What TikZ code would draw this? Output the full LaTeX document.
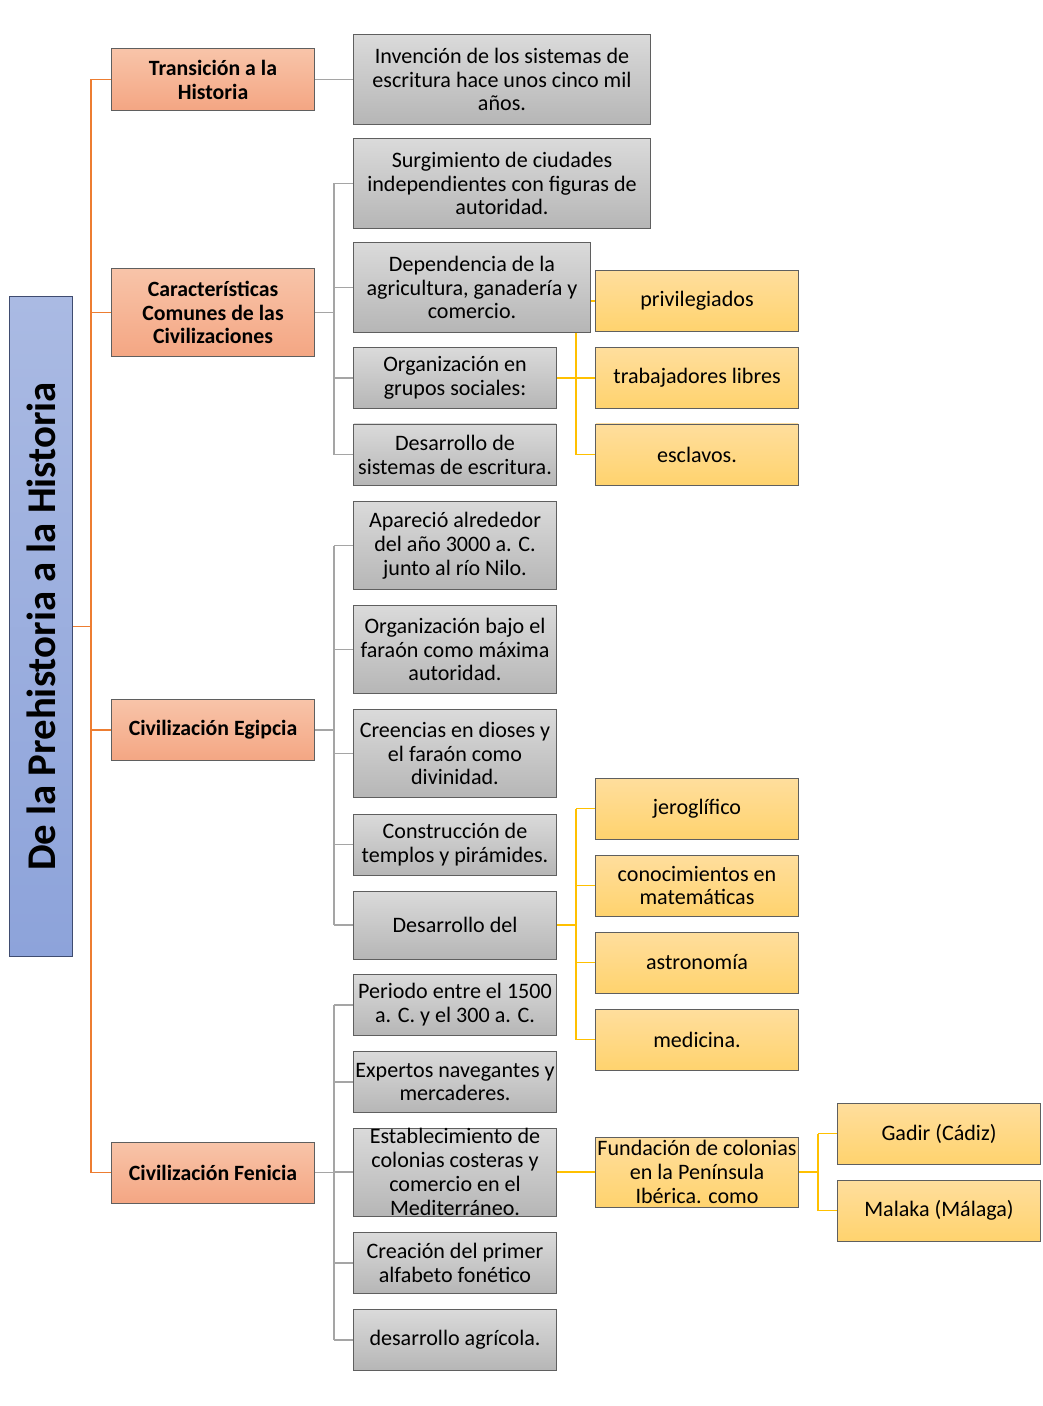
\documentclass[tikz,border=0pt]{standalone}
\usepackage{fontspec}
\setmainfont{Carlito}
\usetikzlibrary{backgrounds}

\definecolor{lnaranja}{HTML}{ED7D31}
\definecolor{lgris}{HTML}{A5A5A5}
\definecolor{lamarillo}{HTML}{FFC000}
\definecolor{raiztop}{HTML}{AABAE3}
\definecolor{raizbot}{HTML}{8DA3DA}
\definecolor{raizborde}{HTML}{3F4C70}
\definecolor{nivtop}{HTML}{F8C4A9}
\definecolor{nivbot}{HTML}{F4A683}
\definecolor{grtop}{HTML}{DADADA}
\definecolor{grbot}{HTML}{B6B6B6}
\definecolor{amtop}{HTML}{FFDE9D}
\definecolor{ambot}{HTML}{FFD36E}
\definecolor{borde}{HTML}{5F5F5F}

\tikzset{
  caja/.style={draw=borde, line width=0.7pt, align=center, inner sep=0pt,
    font=\fontsize{15.7}{17}\selectfont},
  raiz/.style={caja, draw=raizborde, top color=raiztop, bottom color=raizbot,
    minimum width=1.55cm, minimum height=16.475cm},
  nivel/.style={caja, top color=nivtop, bottom color=nivbot, minimum width=5.05cm,
    font=\bfseries\fontsize{15.5}{17}\selectfont},
  gris/.style={caja, top color=grtop, bottom color=grbot, minimum width=5.05cm},
  amar/.style={caja, top color=amtop, bottom color=ambot, minimum width=5.05cm,
    minimum height=1.525cm},
  h61/.style={minimum height=1.525cm},
  h88/.style={minimum height=2.2cm},
  rnar/.style={draw=lnaranja, line width=1.4pt},
  rgris/.style={draw=lgris, line width=1.4pt},
  ramar/.style={draw=lamarillo, line width=1.4pt}
}

\begin{document}
\begin{tikzpicture}[x=0.025cm, y=-0.025cm]
\useasboundingbox (0,0) rectangle (1043,1406);

% raiz y primer nivel
\node[raiz] (raiz) at (41,626.5)
  {\rotatebox{90}{\bfseries\fontsize{29}{33}\selectfont De la Prehistoria a la Historia}};
\node[nivel, h61] (transicion) at (213,79.5) {Transición a la\\Historia};
\node[nivel, h88] (caract) at (213,312.5) {Características\\Comunes de las\\Civilizaciones};
\node[nivel, h61] (egipcia) at (213,730) {Civilización Egipcia};
\node[nivel, h61] (fenicia) at (213,1172.5) {Civilización Fenicia};

% transicion
\node[gris, minimum width=7.4cm, minimum height=2.225cm] (invencion) at (502,79.5)
  {Invención de los sistemas de\\escritura hace unos cinco mil\\años.};

% caracteristicas
\node[gris, minimum width=7.4cm, minimum height=2.225cm] (surgimiento) at (502,183.5)
  {Surgimiento de ciudades\\independientes con figuras de\\autoridad.};
\node[gris, minimum width=5.9cm, minimum height=2.225cm] (dependencia) at (472,287.5)
  {Dependencia de la\\agricultura, ganadería y\\comercio.};
\node[gris, h61] (grupos) at (455,378) {Organización en\\grupos sociales:};
\node[gris, h61] (escritura) at (455,454.5) {Desarrollo de\\sistemas de escritura.};
\node[amar] (privilegiados) at (697,301) {privilegiados};
\node[amar] (trabajadores) at (697,378) {trabajadores libres};
\node[amar] (esclavos) at (697,454.5) {esclavos.};

% egipcia
\node[gris, h88] (aparecio) at (455,545.5) {Apareció alrededor\\del año 3000 a. C.\\junto al río Nilo.};
\node[gris, h88] (faraon) at (455,649.5) {Organización bajo el\\faraón como máxima\\autoridad.};
\node[gris, h88] (creencias) at (455,753.5) {Creencias en dioses y\\el faraón como\\divinidad.};
\node[gris, h61] (templos) at (455,844.5) {Construcción de\\templos y pirámides.};
\node[gris, minimum height=1.7cm] (desarrollo) at (455,925) {Desarrollo del};
\node[amar] (jeroglifico) at (697,808.5) {jeroglífico};
\node[amar] (matematicas) at (697,885.5) {conocimientos en\\matemáticas};
\node[amar] (astronomia) at (697,962.5) {astronomía};
\node[amar] (medicina) at (697,1039.5) {medicina.};

% fenicia
\node[gris, h61] (periodo) at (455,1005) {Periodo entre el 1500\\a. C. y el 300 a. C.};
\node[gris, h61] (expertos) at (455,1082) {Expertos navegantes y\\mercaderes.};
\node[gris, h88] (colonias) at (455,1172) {Establecimiento de\\colonias costeras y\\comercio en el\\Mediterráneo.};
\node[gris, h61] (alfabeto) at (455,1263) {Creación del primer\\alfabeto fonético};
\node[gris, h61] (agricola) at (455,1340) {desarrollo agrícola.};
\node[amar, minimum height=1.75cm] (fundacion) at (697,1172)
  {Fundación de colonias\\en la Península\\Ibérica. como};
\node[amar] (gadir) at (939,1133.5) {Gadir (Cádiz)};
\node[amar] (malaka) at (939,1210.5) {Malaka (Málaga)};

\coordinate (xo) at (91,0);
\coordinate (xg) at (334,0);
\coordinate (xa) at (576,0);
\coordinate (xb) at (818,0);

\begin{scope}[on background layer]
% ramas naranjas
\draw[rnar] (raiz.east) -- (raiz.east -| xo);
\draw[rnar] (xo |- transicion.west) -- (xo |- fenicia.west);
\foreach \n in {transicion,caract,egipcia,fenicia}
  \draw[rnar] (xo |- \n.west) -- (\n.west);
% ramas grises
\draw[rgris] (transicion.east) -- (invencion.west);
\draw[rgris] (caract.east) -- (caract.east -| xg);
\draw[rgris] (xg |- surgimiento.west) -- (xg |- escritura.west);
\foreach \n in {surgimiento,dependencia,grupos,escritura}
  \draw[rgris] (xg |- \n.west) -- (\n.west);
\draw[rgris] (egipcia.east) -- (egipcia.east -| xg);
\draw[rgris] (xg |- aparecio.west) -- (xg |- desarrollo.west);
\foreach \n in {aparecio,faraon,creencias,templos,desarrollo}
  \draw[rgris] (xg |- \n.west) -- (\n.west);
\draw[rgris] (fenicia.east) -- (fenicia.east -| xg);
\draw[rgris] (xg |- periodo.west) -- (xg |- agricola.west);
\foreach \n in {periodo,expertos,colonias,alfabeto,agricola}
  \draw[rgris] (xg |- \n.west) -- (\n.west);
% ramas amarillas
\draw[ramar] (grupos.east) -- (grupos.east -| xa);
\draw[ramar] (xa |- privilegiados.west) -- (xa |- esclavos.west);
\foreach \n in {privilegiados,trabajadores,esclavos}
  \draw[ramar] (xa |- \n.west) -- (\n.west);
\draw[ramar] (desarrollo.east) -- (desarrollo.east -| xa);
\draw[ramar] (xa |- jeroglifico.west) -- (xa |- medicina.west);
\foreach \n in {jeroglifico,matematicas,astronomia,medicina}
  \draw[ramar] (xa |- \n.west) -- (\n.west);
\draw[ramar] (colonias.east) -- (fundacion.west);
\draw[ramar] (fundacion.east) -- (fundacion.east -| xb);
\draw[ramar] (xb |- gadir.west) -- (xb |- malaka.west);
\foreach \n in {gadir,malaka}
  \draw[ramar] (xb |- \n.west) -- (\n.west);
\end{scope}
\end{tikzpicture}
\end{document}
